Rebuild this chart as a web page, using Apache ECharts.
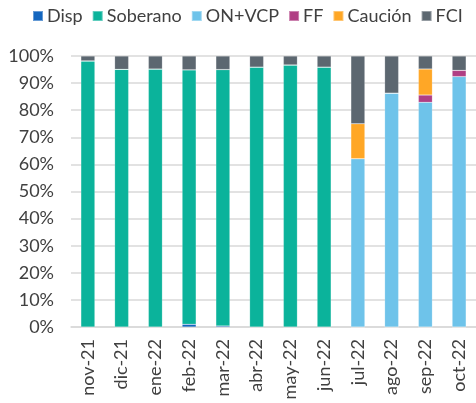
<!DOCTYPE html>
<html><head><meta charset="utf-8">
<script src="https://cdn.jsdelivr.net/npm/echarts@6/dist/echarts.min.js"></script>
<style>html,body{margin:0;padding:0;background:#fff}#c{width:476px;height:403px}</style>
</head><body><div id="c"></div>
<script>
const categories = ['nov-21','dic-21','ene-22','feb-22','mar-22','abr-22','may-22','jun-22','jul-22','ago-22','sep-22','oct-22'];
const disp     = [0, 0, 0, 1.0, 0.4, 0, 0, 0, 0, 0, 0, 0];
const soberano = [98.2, 95.1, 95.2, 93.9, 94.6, 95.9, 96.7, 95.9, 0, 0, 0, 0];
const onvcp    = [0, 0, 0, 0, 0, 0, 0, 0, 62.1, 86.3, 82.9, 92.4];
const ff       = [0, 0, 0, 0, 0, 0, 0, 0, 0, 0, 2.7, 2.3];
const caucion  = [0, 0, 0, 0, 0, 0, 0, 0, 12.9, 0, 9.6, 0];
const fci      = [1.8, 4.9, 4.8, 5.1, 5.0, 4.1, 3.3, 4.1, 25.0, 13.7, 4.8, 5.3];
const yTicks = [0,10,20,30,40,50,60,70,80,90,100];

const seriesDefs = [
  ['Disp', disp, '#1466BF'],
  ['Soberano', soberano, '#0BB39B'],
  ['ON+VCP', onvcp, '#6EC3EA'],
  ['FF', ff, '#B03F84'],
  ['Caución', caucion, '#FFA726'],
  ['FCI', fci, '#5C6770']
];
const chart = echarts.init(document.getElementById('c'));
chart.setOption({
  animation: false,
  textStyle: {fontFamily: 'Lato'},
  legend: {
    left: 27, top: 2, padding: 5, itemWidth: 10, itemHeight: 10, itemGap: 9,
    icon: 'rect',
    textStyle: {fontSize: 18, color: '#404040', fontFamily: 'Lato', padding: [0,0,0,-1]},
    data: seriesDefs.map(s => s[0])
  },
  grid: {left: 71, right: -3, top: 56, bottom: 76},
  xAxis: {
    type: 'category', data: categories,
    axisLine: {lineStyle: {color: '#d9d9d9', width: 1.5}},
    axisTick: {show: false},
    axisLabel: {rotate: 90, fontSize: 18, color: '#404040', margin: 12, fontFamily: 'Lato'}
  },
  yAxis: {
    type: 'value', min: 0, max: 100, interval: 10,
    axisLabel: {formatter: v => yTicks.includes(v) ? v + '%' : '', fontSize: 18, color: '#404040', margin: 17, fontFamily: 'Lato'},
    splitLine: {lineStyle: {color: '#d9d9d9', width: 1.5}},
    axisLine: {show: false}, axisTick: {show: false}
  },
  series: seriesDefs.map(s => ({
    name: s[0], type: 'bar', stack: 'total', data: s[1], barWidth: 14,
    itemStyle: {color: s[2], borderColor: 'rgba(255,255,255,0.35)', borderWidth: 0.5}
  }))
});
</script></body></html>
